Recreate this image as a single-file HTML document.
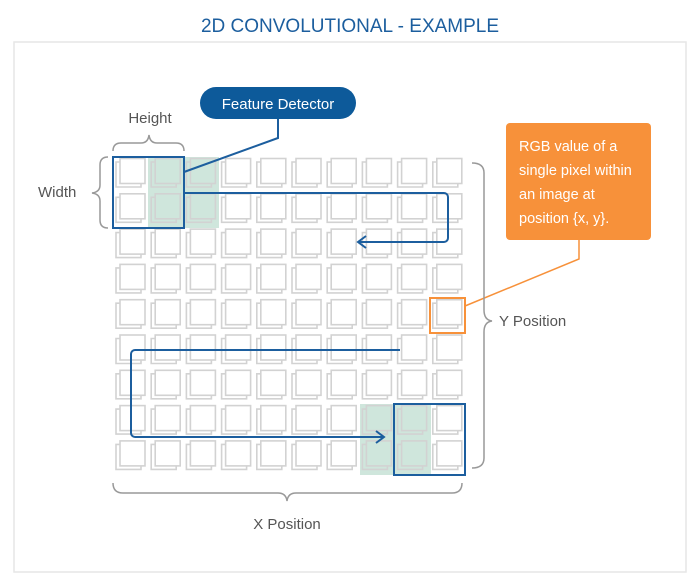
<!DOCTYPE html>
<html><head><meta charset="utf-8"><style>
body{margin:0;background:#fff;width:700px;height:584px;overflow:hidden;font-family:"Liberation Sans",sans-serif}
svg{display:block}
</style></head><body>
<svg id="s" width="700" height="584" viewBox="0 0 700 584">
<text x="350" y="32" text-anchor="middle" font-size="19" fill="#1c5e9e">2D CONVOLUTIONAL - EXAMPLE</text>
<rect x="14" y="42" width="672" height="530" fill="#fff" stroke="#e6e6e6" stroke-width="1.5"/>
<g id="hl">
<rect x="148" y="157" width="71" height="71" fill="#cfe6dc"/>
<rect x="360" y="404" width="71" height="71" fill="#cfe6dc"/>
</g>
<g id="grid"></g>
<g fill="none" stroke="#1c5e9e" stroke-width="2">
<rect x="113" y="157" width="71" height="71"/>
<rect x="394" y="404" width="71" height="71"/>
<path d="M184 193 H444 a4 4 0 0 1 4 4 V238 a4 4 0 0 1 -4 4 H358 M366 236 L358 242 L366 248"/>
<path d="M400 350 H135 a4 4 0 0 0 -4 4 V433 a4 4 0 0 0 4 4 H384 M376 431 L384 437 L376 443"/>
<path d="M278 118 V138 L184 172"/>
</g>
<rect x="430" y="298" width="35" height="35" fill="none" stroke="#f7913a" stroke-width="2"/>
<path d="M579 240 V259 L465 306" fill="none" stroke="#f7913a" stroke-width="1.5"/>
<rect x="200" y="87" width="156" height="32" rx="16" fill="#0d5a9a"/>
<text x="278" y="109" text-anchor="middle" font-size="15" fill="#fff">Feature Detector</text>
<rect x="506" y="123" width="145" height="117" rx="4" fill="#f7913a"/>
<g font-size="14.5" fill="#fff"><text x="519" y="151">RGB value of a</text><text x="519" y="175">single pixel within</text><text x="519" y="199">an image at</text><text x="519" y="223">position {x, y}.</text></g>
<g fill="none" stroke="#999" stroke-width="1.5">
<path d="M113 151 q0 -8 8 -8 H141 q7 0 8 -8 q1 8 8 8 H176 q8 0 8 8"/>
<path d="M108 157 q-8 0 -8 8 V185 q0 7 -8 8 q8 1 8 8 V220 q0 8 8 8"/>
<path d="M472 163 q12 0 12 10 V310 q0 10 8 11 q-8 1 -8 11 V458 q0 10 -12 10"/>
<path d="M113 483 q0 10 10 10 H278 q8 0 9 8 q1 -8 9 -8 H452 q10 0 10 -10"/>
</g>
<g font-size="15" fill="#555">
<text x="150" y="123" text-anchor="middle">Height</text>
<text x="38" y="197">Width</text>
<text x="499" y="326">Y Position</text>
<text x="287" y="529" text-anchor="middle">X Position</text>
</g>
</svg>
<script>
const cols=10, rows=9;
const g=document.getElementById('grid');
const ns='http://www.w3.org/2000/svg';
for(let r=0;r<rows;r++)for(let c=0;c<cols;c++){
 const x=113+c*35.2, y=157+r*35.3;
 const cell=document.createElementNS(ns,'g');
 
 
 const b=document.createElementNS(ns,'path');
 b.setAttribute('d',`M${x+7} ${y+5} H${x+3} V${y+30} H${x+28} V${y+26.5}`);
 b.setAttribute('fill','none');b.setAttribute('stroke','#d2d2d2');b.setAttribute('stroke-width','1.6');
 const f=document.createElementNS(ns,'rect');
 f.setAttribute('x',x+7);f.setAttribute('y',y+1.5);f.setAttribute('width',25);f.setAttribute('height',25);
 f.setAttribute('fill','none');f.setAttribute('stroke','#d2d2d2');f.setAttribute('stroke-width','1.6');
 cell.appendChild(b);cell.appendChild(f);g.appendChild(cell);
}
</script>
</body></html>
